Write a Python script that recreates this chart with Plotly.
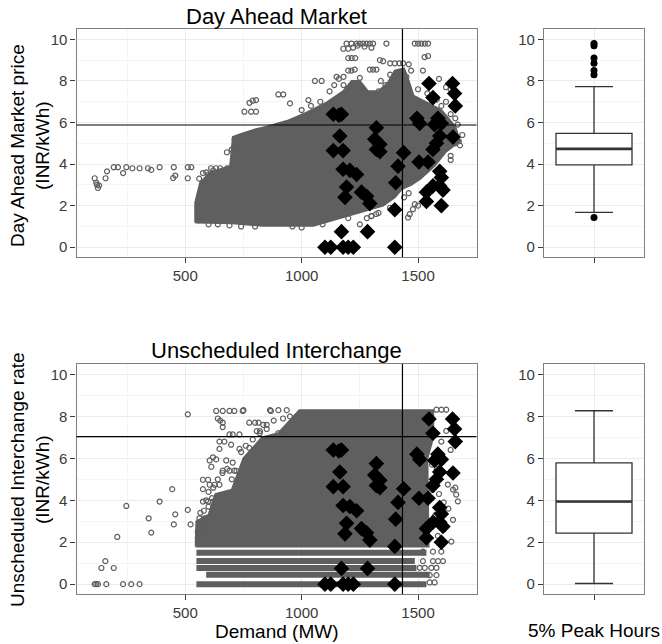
import plotly.graph_objects as go

# ---------------- data ----------------
# thresholds
demand_threshold = 1433
dam_price_threshold = 5.88
ui_rate_threshold = 7.04

# 5% peak-hour points (same in both panels)
peak_demand = [1136, 1160, 1171, 1164, 1136, 1178, 1178, 1207, 1236, 1193, 1186, 1257, 1279, 1293,
               1321, 1314, 1336, 1321, 1336, 1438, 1414, 1404, 1400, 1171, 1283,
               1100, 1125, 1178, 1200, 1222, 1400,
               1547, 1648, 1657, 1564, 1660, 1495, 1507, 1585, 1600, 1593, 1579, 1564, 1650,
               1504, 1543, 1593, 1600, 1564, 1593, 1607, 1536, 1536, 1600, 1571]
peak_price = [6.4, 6.35, 6.4, 5.35, 4.65, 4.65, 3.75, 3.7, 3.5, 2.9, 2.4, 2.65, 2.45, 2.1,
              5.75, 5.2, 4.95, 4.7, 4.6, 4.55, 3.9, 3.1, 1.8, 0.75, 0.75,
              0, 0, 0, 0, 0, 0,
              7.88, 7.88, 7.4, 7.2, 6.8, 6.2, 5.95, 6.2, 5.95, 5.35, 5.0, 4.7, 5.3,
              4.1, 4.1, 3.65, 3.35, 2.95, 2.95, 2.75, 2.65, 2.2, 2.0, 5.9]

# Day Ahead Market: outline of the dense cloud of hourly points
dam_cloud_demand = [543, 543, 564, 607, 693, 705, 728, 800, 850, 936, 1021, 1107, 1178, 1215, 1250,
                    1285, 1330, 1370, 1400, 1440, 1460, 1480, 1530, 1600, 1660, 1680, 1620, 1570,
                    1510, 1470, 1430, 1400, 1350, 1250, 1150, 1050, 835, 700, 543]
dam_cloud_price = [1.19, 2.15, 3.1, 3.6, 3.9, 5.3, 5.4, 5.67, 5.8, 6.07, 6.47, 6.96, 7.5, 8.0, 8.0,
                   7.5, 7.5, 7.9, 8.5, 8.6, 8.0, 7.3, 7.0, 6.6, 5.8, 5.1, 4.6, 3.9,
                   3.3, 3.0, 2.8, 2.4, 2.0, 1.67, 1.35, 1.03, 1.03, 1.15, 1.19]
# Day Ahead Market: scattered hourly points outside the dense cloud
dam_demand = [111, 118, 125, 130, 121, 158, 164, 193, 211, 233, 247, 273, 304, 340, 354, 390,
              448, 457, 451, 511, 511, 526, 576, 611, 632, 679, 704,
              754, 783, 804, 776, 790, 804, 900, 921, 950, 1029, 1057, 1086,
              1193, 1214, 1236, 1250, 1264, 1279, 1293, 1307, 1364, 1486, 1500, 1514, 1529, 1543,
              1179, 1200, 1221, 1240, 1270, 1300,
              1200, 1215, 1230, 1528, 1543,
              1336, 1350, 1380, 1400, 1420, 1436, 1460,
              1200, 1214, 1228, 1293, 1307, 1321, 1521, 1470,
              1150, 1180, 1250, 1340, 1380, 1450, 1590, 1620, 1640, 1580, 1620, 1660,
              1660, 1675, 1640, 1486, 1478, 1464, 1457, 1500, 1280, 1300, 1320, 1250,
              560, 575, 590, 600, 620, 650, 680, 700, 712, 722, 740, 760, 780,
              560, 600, 640, 690, 740, 800, 960, 1000, 1090, 1200, 1300, 1330, 1380,
              1000, 1040, 1080, 1120, 1140, 1160, 1180, 1230, 1290, 1330, 1360, 1400, 1500, 1540,
              1560, 1600, 1640, 1670, 1690, 1680, 1640, 1600, 1440, 1460]
dam_price = [3.32, 3.1, 2.85, 2.97, 3.0, 3.32, 3.65, 3.85, 3.85, 3.57, 3.85, 3.8, 3.8, 3.8, 3.72, 3.85,
             3.33, 3.45, 3.85, 3.32, 3.85, 3.85, 3.57, 3.8, 3.8, 4.57, 4.0,
             6.52, 6.52, 6.52, 6.95, 7.05, 7.08, 7.35, 7.35, 6.92, 7.08, 8.0, 8.0,
             9.8, 9.8, 9.8, 9.8, 9.8, 9.8, 9.8, 9.8, 9.8, 9.8, 9.8, 9.8, 9.8, 9.8,
             9.55, 9.55, 9.6, 9.7, 9.65, 9.6,
             9.1, 9.1, 9.1, 9.15, 9.2,
             9.0, 8.95, 8.85, 8.85, 8.85, 8.85, 8.8,
             8.5, 8.5, 8.55, 8.55, 8.55, 8.55, 8.5, 8.5,
             8.2, 8.2, 8.15, 8.0, 8.3, 8.2, 8.1, 7.7, 7.6, 7.1, 7.0, 6.2,
             5.0, 5.1, 4.4, 2.07, 1.83, 1.59, 1.43, 2.0, 1.4, 1.5, 1.6, 1.1,
             3.3, 3.1, 3.6, 3.5, 3.7, 3.8, 3.8, 4.7, 5.2, 4.9, 4.6, 4.7, 5.3,
             1.3, 1.1, 1.1, 1.05, 1.0, 1.0, 1.0, 0.95, 1.1, 1.4, 1.5, 1.65, 1.9,
             6.6, 6.8, 7.0, 7.5, 7.8, 8.1, 7.8, 7.1, 7.3, 7.5, 7.8, 8.1, 7.6, 7.4,
             7.0, 6.8, 6.4, 5.9, 5.4, 4.9, 4.2, 3.6, 2.4, 2.6]

# Unscheduled Interchange: outline of the dense cloud
ui_cloud_demand = [545, 548, 600, 630, 700, 750, 830, 900, 990, 1565, 1565, 1540, 1545, 545]
ui_cloud_rate = [1.8, 3.0, 3.3, 4.3, 4.5, 6.0, 7.0, 7.2, 8.3, 8.3, 7.0, 6.0, 1.8, 1.8]
# Unscheduled Interchange: discrete low-rate levels (bands of points)
ui_band_rate = [1.5, 1.1, 0.77, 0.45, 0.0]
ui_band_start = [548, 548, 548, 590, 548]
ui_band_end = [1536, 1486, 1493, 1550, 1536]
# Unscheduled Interchange: scattered hourly points
ui_demand = [111, 118, 125, 161, 233, 268, 304, 140, 157, 193, 208, 247, 343, 354, 390, 444, 457, 451,
             511, 523, 511,
             633, 661, 690, 711, 747, 640, 661, 775, 800, 815, 868, 661, 690, 704, 733, 647, 668, 697,
             647, 619, 633, 605, 612, 676, 704, 733, 775, 576, 598, 576, 605, 626, 647, 576, 598, 619,
             561, 583, 561, 583, 554, 554, 661, 690, 711, 750, 864, 900, 936, 650, 835, 850, 807, 821,
             1579, 1600, 1621, 1621, 1600, 1628, 1650, 1664, 1671, 1650, 1643,
             1521, 1564, 1600, 1521, 1564, 1586, 1607, 1507, 1529, 1557, 1579, 1550, 1579, 1550, 1571,
             1560, 1580, 1560, 1590, 1610, 1630, 1610, 1640, 1660, 1575, 1585, 1600,
             580, 590, 600, 620, 640, 660, 680, 700, 720, 740, 760, 790, 820, 850, 880, 920, 950,
             970, 900, 565, 570, 585, 600, 615]
ui_rate = [0, 0, 0, 0, 0, 0, 0, 0.77, 1.1, 0.77, 2.25, 3.73, 3.14, 2.46, 3.94, 4.53, 3.33, 2.85,
           3.54, 2.85, 8.1,
           8.26, 8.26, 8.26, 8.26, 8.26, 7.9, 7.7, 7.7, 7.7, 7.7, 8.26, 7.49, 7.14, 7.14, 7.14, 6.8, 6.8, 6.65,
           6.45, 6.05, 5.95, 5.9, 5.6, 5.9, 5.8, 6.45, 6.5, 4.98, 4.98, 4.53, 4.74, 4.74, 4.74, 3.94, 3.94, 3.94,
           3.14, 3.14, 2.82, 2.82, 2.5, 2.2, 5.41, 5.41, 5.41, 8.3, 8.3, 8.3, 8.3, 7.8, 7.6, 7.6, 7.3, 7.3,
           8.32, 8.32, 8.32, 7.31, 6.8, 4.75, 4.51, 4.27, 3.95, 3.07, 2.03,
           1.55, 1.55, 1.55, 1.1, 1.1, 1.1, 1.1, 0.78, 0.78, 0.78, 0.78, 0.43, 0.43, 0.08, 0.08,
           5.7, 5.5, 4.5, 4.3, 3.9, 3.6, 2.6, 6.4, 4.6, 3.3, 2.3, 6.1,
           3.5, 4.0, 4.4, 4.6, 5.0, 5.3, 5.5, 5.0, 5.4, 6.3, 6.6, 6.9, 7.2, 7.4, 7.8, 7.9, 8.0,
           7.6, 7.2, 3.4, 2.0, 2.6, 3.7, 4.1]

# box plot statistics (5% peak hours)
dam_box = dict(q1=3.96, median=4.73, q3=5.48, lowerfence=1.68, upperfence=7.73)
dam_box_outliers = [9.8, 9.7, 9.1, 8.85, 8.5, 8.3, 1.43]
ui_box = dict(q1=2.43, median=3.94, q3=5.78, lowerfence=0.03, upperfence=8.27)
ui_box_outliers = []

# ---------------- styling ----------------
FONT = "Liberation Sans, Arial, sans-serif"
CLOUD = "#5f5f5f"
W, H = 662, 644

def px_x(p):
    return p / W

def px_y(p):
    return 1 - p / H

xdom_sc = [px_x(76.5), px_x(476.5)]
xdom_bx = [px_x(544), px_x(644)]
ydom_top = [px_y(257), px_y(29)]
ydom_bot = [px_y(594), px_y(364)]

fig = go.Figure()

def scatter_panel(xa, ya, cloud_x, cloud_y, pts_x, pts_y, bands=None):
    fig.add_trace(go.Scatter(x=cloud_x, y=cloud_y, fill="toself", mode="lines",
                             fillcolor=CLOUD, line=dict(color=CLOUD, width=2),
                             xaxis=xa, yaxis=ya, hoverinfo="skip", showlegend=False))
    if bands is not None:
        bx, by = [], []
        for lvl, s, e in zip(*bands):
            bx += [s, e, None]
            by += [lvl, lvl, None]
        fig.add_trace(go.Scatter(x=bx, y=by, mode="lines", line=dict(color=CLOUD, width=6),
                                 xaxis=xa, yaxis=ya, hoverinfo="skip", showlegend=False))
    fig.add_trace(go.Scatter(x=pts_x, y=pts_y, mode="markers",
                             marker=dict(symbol="circle-open", size=5, color=CLOUD,
                                         line=dict(width=1.2, color=CLOUD)),
                             xaxis=xa, yaxis=ya, showlegend=False))
    fig.add_trace(go.Scatter(x=peak_demand, y=peak_price, mode="markers",
                             marker=dict(symbol="diamond", size=12, color="black",
                                         line=dict(width=0)),
                             xaxis=xa, yaxis=ya, showlegend=False))

scatter_panel("x", "y", dam_cloud_demand, dam_cloud_price, dam_demand, dam_price)
scatter_panel("x3", "y3", ui_cloud_demand, ui_cloud_rate, ui_demand, ui_rate,
              bands=(ui_band_rate, ui_band_start, ui_band_end))

box_width = 0.76

def box_panel(xa, ya, st, outliers):
    fig.add_trace(go.Box(x=[0], q1=[st["q1"]], median=[st["median"]], q3=[st["q3"]],
                         lowerfence=[st["lowerfence"]], upperfence=[st["upperfence"]],
                         width=box_width, fillcolor="white", boxpoints=False,
                         line=dict(color="#333333", width=1.3),
                         xaxis=xa, yaxis=ya, showlegend=False))
    fig.add_trace(go.Scatter(x=[-box_width / 2, box_width / 2], y=[st["median"]] * 2, mode="lines",
                             line=dict(color="#333333", width=2.6), xaxis=xa, yaxis=ya,
                             showlegend=False, hoverinfo="skip"))
    if outliers:
        fig.add_trace(go.Scatter(x=[0] * len(outliers), y=outliers, mode="markers",
                                 marker=dict(size=7, color="black"), xaxis=xa, yaxis=ya,
                                 showlegend=False))

box_panel("x2", "y2", dam_box, dam_box_outliers)
box_panel("x4", "y4", ui_box, ui_box_outliers)

# reference lines
shapes = []
for xr, yr, hval in (("x", "y", dam_price_threshold), ("x3", "y3", ui_rate_threshold)):
    shapes.append(dict(type="line", xref=xr, yref=yr + " domain", x0=demand_threshold,
                       x1=demand_threshold, y0=0, y1=1, line=dict(color="black", width=1.2)))
    shapes.append(dict(type="line", xref=xr + " domain", yref=yr, x0=0, x1=1, y0=hval,
                       y1=hval, line=dict(color="black", width=1.2)))

yrange = [-0.47, 10.5]
tickfont = dict(family=FONT, size=15, color="#3a3a3a")
common_axis = dict(showline=True, mirror=True, linecolor="#7f7f7f", linewidth=1.2,
                   ticks="outside", ticklen=5, tickcolor="#3a3a3a", tickfont=tickfont,
                   showgrid=True, gridcolor="#ebebeb", gridwidth=1.2, zeroline=False)

def xsc(dom, anchor):
    return dict(common_axis, domain=dom, anchor=anchor, range=[33, 1751],
                tickvals=[500, 1000, 1500],
                minor=dict(tickvals=[250, 750, 1250], showgrid=True, gridcolor="#f5f5f5",
                           gridwidth=0.8, ticks=""))

def ysc(dom, anchor):
    return dict(common_axis, domain=dom, anchor=anchor, range=yrange,
                tickvals=[0, 2, 4, 6, 8, 10],
                minor=dict(tickvals=[1, 3, 5, 7, 9], showgrid=True, gridcolor="#f5f5f5",
                           gridwidth=0.8, ticks=""))

def xbx(dom, anchor):
    return dict(common_axis, domain=dom, anchor=anchor, range=[-0.5, 0.5],
                tickvals=[0], ticktext=[""], showticklabels=True)

annotations = [
    dict(text="Day Ahead Market", x=px_x(276.5), y=px_y(16), xref="paper", yref="paper",
         showarrow=False, font=dict(family=FONT, size=22, color="black"), xanchor="center", yanchor="middle"),
    dict(text="Unscheduled Interchange", x=px_x(276.5), y=px_y(351), xref="paper", yref="paper",
         showarrow=False, font=dict(family=FONT, size=22, color="black"), xanchor="center", yanchor="middle"),
    dict(text="Day Ahead Market price<br>(INR/kWh)", x=px_x(30), y=px_y(146), xref="paper", yref="paper",
         showarrow=False, textangle=-90, font=dict(family=FONT, size=19, color="black"),
         xanchor="center", yanchor="middle"),
    dict(text="Unscheduled Interchange rate<br>(INR/kWh)", x=px_x(30), y=px_y(480), xref="paper", yref="paper",
         showarrow=False, textangle=-90, font=dict(family=FONT, size=19, color="black"),
         xanchor="center", yanchor="middle"),
    dict(text="Demand (MW)", x=px_x(276.5), y=px_y(631), xref="paper", yref="paper",
         showarrow=False, font=dict(family=FONT, size=19, color="black"), xanchor="center", yanchor="middle"),
    dict(text="5% Peak Hours", x=px_x(594), y=px_y(630), xref="paper", yref="paper",
         showarrow=False, font=dict(family=FONT, size=19, color="black"), xanchor="center", yanchor="middle"),
]

fig.update_layout(
    width=W, height=H, margin=dict(l=0, r=0, t=0, b=0),
    paper_bgcolor="white", plot_bgcolor="white", showlegend=False,
    font=dict(family=FONT),
    xaxis=xsc(xdom_sc, "y"), yaxis=ysc(ydom_top, "x"),
    xaxis2=xbx(xdom_bx, "y2"), yaxis2=ysc(ydom_top, "x2"),
    xaxis3=xsc(xdom_sc, "y3"), yaxis3=ysc(ydom_bot, "x3"),
    xaxis4=xbx(xdom_bx, "y4"), yaxis4=ysc(ydom_bot, "x4"),
    shapes=shapes, annotations=annotations,
)

fig.write_html("out.html")
